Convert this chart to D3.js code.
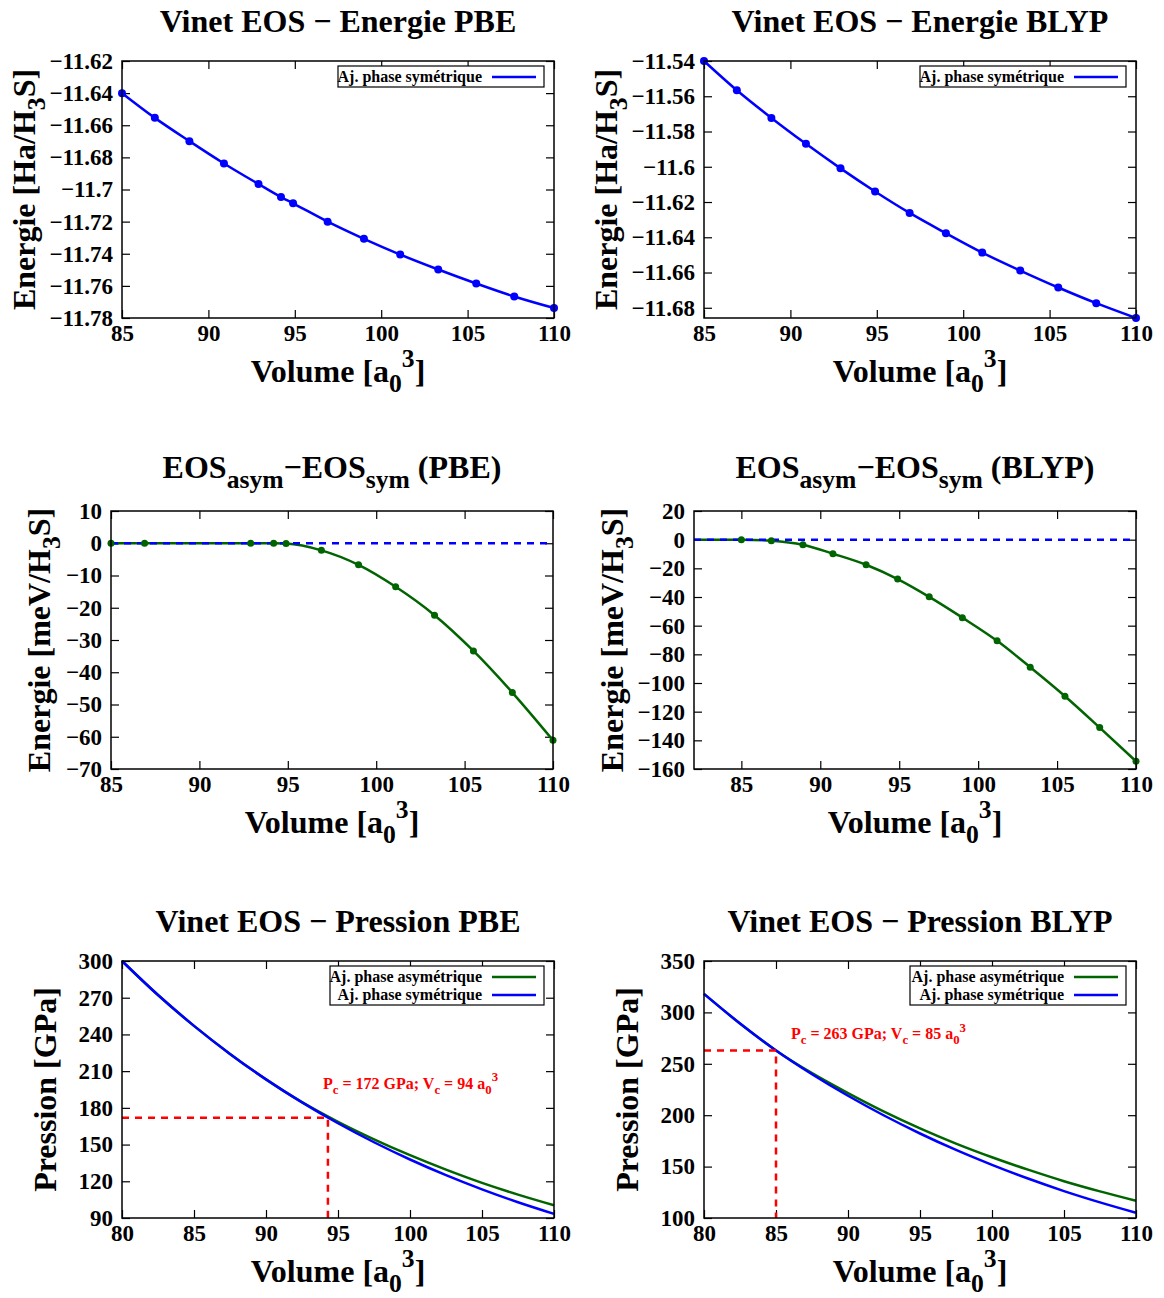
<!DOCTYPE html>
<html><head><meta charset="utf-8">
<script src="https://cdn.jsdelivr.net/npm/d3@7"></script>
<style>
body{margin:0;background:#fff;}
svg text{font-family:"Liberation Serif","Times New Roman",serif;font-weight:bold;fill:#000;}
</style></head><body>
<svg id="c" width="1164" height="1298"></svg>
<script>
// ---------------- DATA ----------------
// Top row: Vinet EOS energies
const volPBE = [85, 86.9, 88.9, 90.9, 92.9, 94.2, 94.9, 96.9, 99.0, 101.1, 103.3, 105.5, 107.7, 110.0];
const energyPBE = [-11.640, -11.6554, -11.6699, -11.6838, -11.6966, -11.7047, -11.7086, -11.7200, -11.7307, -11.7405, -11.7498, -11.7585, -11.7666, -11.7738];
const volBLYP = [85, 86.9, 88.9, 90.9, 92.9, 94.9, 96.9, 99.0, 101.1, 103.3, 105.5, 107.7, 110.0];
const energyBLYP = [-11.540, -11.5566, -11.5723, -11.5870, -11.6009, -11.6140, -11.6262, -11.6377, -11.6487, -11.6589, -11.6685, -11.6774, -11.6858];

// Middle row: EOS_asym - EOS_sym (meV/H3S)
const diffVolPBE = [85, 86.9, 92.9, 94.2, 94.9, 96.9, 99.0, 101.1, 103.3, 105.5, 107.7, 110.0];
const diffPBE = [0, 0, 0, 0, -0.1, -2.2, -6.7, -13.5, -22.3, -33.4, -46.3, -61.1];
const diffVolBLYP = [85, 86.9, 88.9, 90.8, 92.9, 94.9, 96.9, 99.0, 101.2, 103.3, 105.5, 107.7, 110.0];
const diffBLYP = [0, -0.7, -3.5, -9.8, -17.5, -27.5, -39.9, -54.4, -70.6, -89.0, -109.2, -131.1, -154.6];
const fitStartBLYP = [82, 0]; // fitted curve starts at left edge, at zero

// Bottom row: pressures (GPa)
const volP = [80, 82.5, 85, 87.5, 90, 92.5, 95, 97.5, 100, 102.5, 105, 107.5, 110];
const pSymPBE  = [300, 272.2, 247.0, 224.1, 203.3, 184.5, 167.4, 151.9, 137.8, 125.0, 113.4, 102.9, 93.4];
const pAsymPBE = [300, 272.2, 247.0, 224.1, 203.3, 184.7, 168.6, 154.3, 141.3, 129.5, 118.7, 109.1, 100.4];
const pSymBLYP  = [318, 289.2, 263.0, 239.9, 218.9, 199.7, 182.2, 166.2, 151.7, 138.4, 126.2, 115.2, 105.1];
const pAsymBLYP = [318, 289.2, 263.0, 240.9, 221.5, 203.5, 187.2, 172.4, 159.1, 147.0, 135.8, 125.9, 116.8];
const criticalPBE = {P: 172, V: 94.3, label: ["172", "94"]};
const criticalBLYP = {P: 263, V: 85, label: ["263", "85"]};

// Tick values
const xTicks85 = [85, 90, 95, 100, 105, 110];
const xTicks80 = [80, 85, 90, 95, 100, 105, 110];
const yTicksEPBE = [-11.78, -11.76, -11.74, -11.72, -11.70, -11.68, -11.66, -11.64, -11.62];
const yTicksEBLYP = [-11.68, -11.66, -11.64, -11.62, -11.60, -11.58, -11.56, -11.54];
const yTicksDPBE = [-70, -60, -50, -40, -30, -20, -10, 0, 10];
const yTicksDBLYP = [-160, -140, -120, -100, -80, -60, -40, -20, 0, 20];
const yTicksPPBE = [90, 120, 150, 180, 210, 240, 270, 300];
const yTicksPBLYP = [100, 150, 200, 250, 300, 350];

const legSym = "Aj. phase symétrique";
const legAsym = "Aj. phase asymétrique";

// ---------------- DRAWING ----------------
const svg = d3.select("#c");
const BLUE = "#0000ff", GREEN = "#006400", RED = "#ff0000";
const FONT = '"Liberation Serif","Times New Roman",serif';
const fmt = v => String(+v.toFixed(2)).replace("-", "\u2212");

function rich(sel, parts, fs) {
  let cur = 0;
  parts.forEach(p => {
    const off = p.s === "sub" ? 0.32 * fs : p.s === "sup" ? -0.47 * fs : 0;
    sel.append("tspan").attr("dy", off - cur).attr("font-size", p.s ? fs * 0.8 : fs).text(p.t);
    cur = off;
  });
}

function panel(c) {
  const g = svg.append("g");
  const x = d3.scaleLinear().domain(c.xd).range([c.x0, c.x1]);
  const y = d3.scaleLinear().domain(c.yd).range([c.y1, c.y0]);
  const TS = 23;
  const ax = (sel) => { sel.select(".domain").remove(); sel.selectAll("line").attr("stroke", "#000").attr("stroke-width", 1.2);
    sel.attr("font-family", null).attr("font-size", null);
    sel.selectAll("text").attr("font-size", null)
      .style("font-size", TS + "px").style("font-family", FONT).style("font-weight", "bold").style("fill", "#000"); };
  g.append("g").attr("transform", `translate(0,${c.y1})`)
    .call(d3.axisBottom(x).tickValues(c.xt).tickSize(-8).tickPadding(7).tickFormat(fmt)).call(ax);
  g.append("g").attr("transform", `translate(0,${c.y0})`)
    .call(d3.axisTop(x).tickValues(c.xt).tickSize(-8).tickFormat("")).call(ax);
  g.append("g").attr("transform", `translate(${c.x0},0)`)
    .call(d3.axisLeft(y).tickValues(c.yt).tickSize(-8).tickPadding(9).tickFormat(fmt)).call(ax);
  g.append("g").attr("transform", `translate(${c.x1},0)`)
    .call(d3.axisRight(y).tickValues(c.yt).tickSize(-8).tickFormat("")).call(ax);

  const plot = g.append("g");
  c.draw(plot, x, y);

  g.append("rect").attr("x", c.x0).attr("y", c.y0).attr("width", c.x1 - c.x0).attr("height", c.y1 - c.y0)
    .attr("fill", "none").attr("stroke", "#000").attr("stroke-width", 1.5);

  // title
  const t = g.append("text").attr("x", (c.x0 + c.x1) / 2).attr("y", c.y0 + c.titleDy).attr("text-anchor", "middle");
  rich(t, c.title, 32);
  // x label
  const xl = g.append("text").attr("x", (c.x0 + c.x1) / 2).attr("y", c.y1 + 64).attr("text-anchor", "middle");
  rich(xl, [{t: "Volume [a"}, {t: "0", s: "sub"}, {t: "3", s: "sup"}, {t: "]"}], 32);
  // y label
  const yl = g.append("text").attr("transform", `translate(${c.x0 - c.ylOff},${(c.y0 + c.y1) / 2}) rotate(-90)`).attr("text-anchor", "middle");
  rich(yl, c.ylabel, 32);

  // legend
  if (c.legend) {
    const n = c.legend.length, rh = 18;
    const lx1 = c.x1 - 10, lx0 = lx1 - c.legW, ly0 = c.y0 + 5;
    g.append("rect").attr("x", lx0).attr("y", ly0).attr("width", c.legW).attr("height", n * rh + 3)
      .attr("fill", "#fff").attr("stroke", "#000").attr("stroke-width", 1.2);
    c.legend.forEach((L, i) => {
      const cy = ly0 + 11 + i * rh;
      g.append("text").attr("x", lx1 - 62).attr("y", cy + 5).attr("text-anchor", "end").attr("font-size", 16).text(L.t);
      g.append("line").attr("x1", lx1 - 52).attr("x2", lx1 - 8).attr("y1", cy).attr("y2", cy)
        .attr("stroke", L.c).attr("stroke-width", 2.5);
    });
  }
}

function curveLine(sel, xs, ys, x, y, color, dash) {
  const pts = xs.map((v, i) => [v, ys[i]]);
  sel.append("path").attr("d", d3.line().x(d => x(d[0])).y(d => y(d[1])).curve(d3.curveMonotoneX)(pts))
    .attr("fill", "none").attr("stroke", color).attr("stroke-width", 2.5)
    .attr("stroke-dasharray", dash || null);
}
function dots(sel, xs, ys, x, y, color, r) {
  sel.selectAll(null).data(xs.map((v, i) => [v, ys[i]])).enter().append("circle")
    .attr("cx", d => x(d[0])).attr("cy", d => y(d[1])).attr("r", r).attr("fill", color);
}
function critical(sel, x, y, c, xd, yd, lab) {
  sel.append("path").attr("d", d3.line()([[x(xd[0]), y(c.P)], [x(c.V), y(c.P)], [x(c.V), y(yd[0])]]))
    .attr("fill", "none").attr("stroke", RED).attr("stroke-width", 2.5).attr("stroke-dasharray", "7,6");
  const t = sel.append("text").attr("x", x(lab[0])).attr("y", y(lab[1])).style("fill", RED);
  rich(t, [{t: "P"}, {t: "c", s: "sub"}, {t: ` = ${c.label[0]} GPa; V`}, {t: "c", s: "sub"}, {t: ` = ${c.label[1]} a`}, {t: "0", s: "sub"}, {t: "3", s: "sup"}], 16);
}

const yE = [{t: "Energie [Ha/H"}, {t: "3", s: "sub"}, {t: "S]"}];
const yD = [{t: "Energie [meV/H"}, {t: "3", s: "sub"}, {t: "S]"}];
const yP = [{t: "Pression [GPa]"}];

panel({x0: 122, x1: 554, y0: 61, y1: 318, xd: [85, 110], yd: [-11.78, -11.62], xt: xTicks85, yt: yTicksEPBE,
  titleDy: -29.5, title: [{t: "Vinet EOS \u2212 Energie PBE"}], ylabel: yE, ylOff: 87,
  legend: [{t: legSym, c: BLUE}], legW: 206,
  draw: (s, x, y) => { curveLine(s, volPBE, energyPBE, x, y, BLUE); dots(s, volPBE, energyPBE, x, y, BLUE, 4); }});

panel({x0: 704, x1: 1136, y0: 61, y1: 318, xd: [85, 110], yd: [-11.6858, -11.54], xt: xTicks85, yt: yTicksEBLYP,
  titleDy: -29.5, title: [{t: "Vinet EOS \u2212 Energie BLYP"}], ylabel: yE, ylOff: 87,
  legend: [{t: legSym, c: BLUE}], legW: 206,
  draw: (s, x, y) => { curveLine(s, volBLYP, energyBLYP, x, y, BLUE); dots(s, volBLYP, energyBLYP, x, y, BLUE, 4); }});

panel({x0: 111, x1: 553, y0: 511, y1: 769, xd: [85, 110], yd: [-70, 10], xt: xTicks85, yt: yTicksDPBE,
  titleDy: -33, title: [{t: "EOS"}, {t: "asym", s: "sub"}, {t: "\u2212EOS"}, {t: "sym", s: "sub"}, {t: " (PBE)"}], ylabel: yD, ylOff: 61,
  draw: (s, x, y) => { curveLine(s, diffVolPBE, diffPBE, x, y, GREEN);
    curveLine(s, [85, 110], [0, 0], x, y, BLUE, "7,6"); dots(s, diffVolPBE, diffPBE, x, y, GREEN, 3.5); }});

panel({x0: 694, x1: 1136, y0: 511, y1: 769, xd: [82, 110], yd: [-160, 20], xt: xTicks85, yt: yTicksDBLYP,
  titleDy: -33, title: [{t: "EOS"}, {t: "asym", s: "sub"}, {t: "\u2212EOS"}, {t: "sym", s: "sub"}, {t: " (BLYP)"}], ylabel: yD, ylOff: 71,
  draw: (s, x, y) => { curveLine(s, [fitStartBLYP[0], ...diffVolBLYP], [fitStartBLYP[1], ...diffBLYP], x, y, GREEN);
    curveLine(s, [82, 110], [0, 0], x, y, BLUE, "7,6"); dots(s, diffVolBLYP, diffBLYP, x, y, GREEN, 3.5); }});

panel({x0: 122, x1: 554, y0: 961, y1: 1218, xd: [80, 110], yd: [90, 300], xt: xTicks80, yt: yTicksPPBE,
  titleDy: -29.5, title: [{t: "Vinet EOS \u2212 Pression PBE"}], ylabel: yP, ylOff: 66,
  legend: [{t: legAsym, c: GREEN}, {t: legSym, c: BLUE}], legW: 214,
  draw: (s, x, y) => { curveLine(s, volP, pAsymPBE, x, y, GREEN); curveLine(s, volP, pSymPBE, x, y, BLUE);
    critical(s, x, y, criticalPBE, [80, 110], [90, 300], [93.96, 195.4]); }});

panel({x0: 704, x1: 1136, y0: 961, y1: 1218, xd: [80, 110], yd: [100, 350], xt: xTicks80, yt: yTicksPBLYP,
  titleDy: -29.5, title: [{t: "Vinet EOS \u2212 Pression BLYP"}], ylabel: yP, ylOff: 66,
  legend: [{t: legAsym, c: GREEN}, {t: legSym, c: BLUE}], legW: 216,
  draw: (s, x, y) => { curveLine(s, volP, pAsymBLYP, x, y, GREEN); curveLine(s, volP, pSymBLYP, x, y, BLUE);
    critical(s, x, y, criticalBLYP, [80, 110], [100, 350], [86.04, 274.1]); }});
</script>
</body></html>
